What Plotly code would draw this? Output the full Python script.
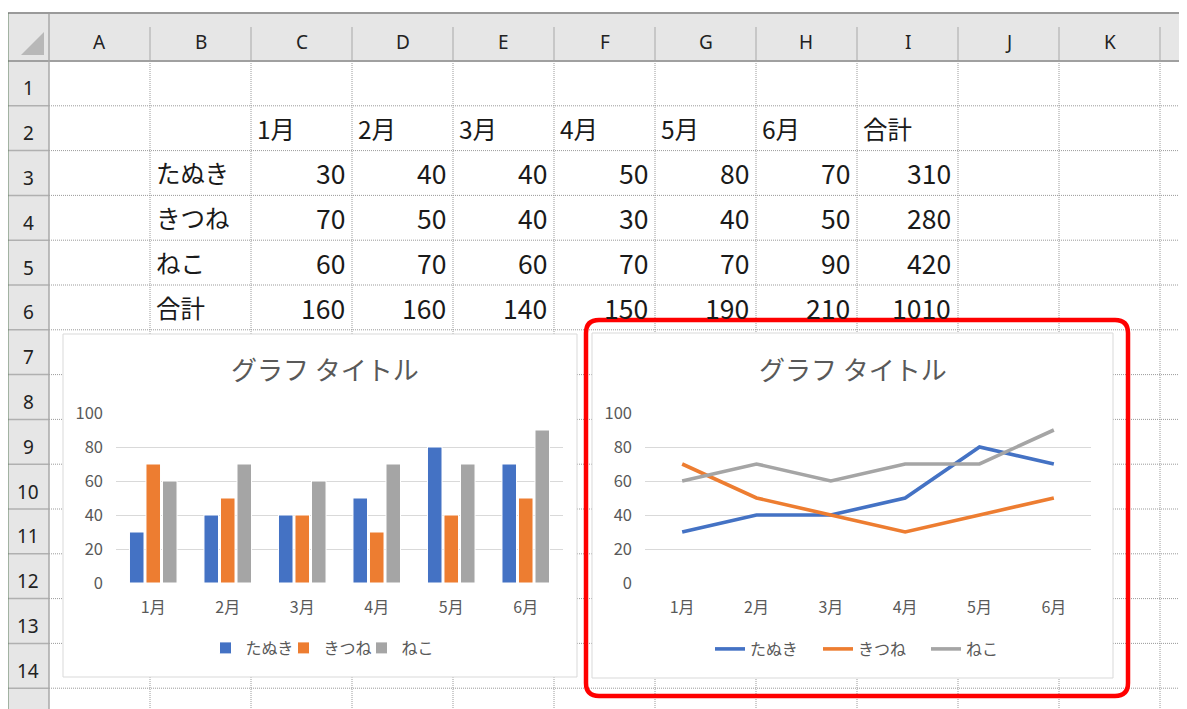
import plotly.graph_objects as go

W, H = 1187, 709

# ---------------- data ----------------
months = ["1月", "2月", "3月", "4月", "5月", "6月"]
animals = ["たぬき", "きつね", "ねこ"]
tanuki = [30, 40, 40, 50, 80, 70]
kitsune = [70, 50, 40, 30, 40, 50]
neko = [60, 70, 60, 70, 70, 90]
row_totals = [310, 280, 420]
col_totals = [160, 160, 140, 150, 190, 210]
grand_total = 1010
total_label = "合計"
chart_title = "グラフ タイトル"
col_letters = ["A", "B", "C", "D", "E", "F", "G", "H", "I", "J", "K"]
row_numbers = list(range(1, 16))
series_colors = ["#4472C4", "#ED7D31", "#A5A5A5"]

# ---------------- geometry helpers ----------------
OFF = 8  # page body margin offset of the rendered figure

def fx(x):
    return (x - OFF) / W

def fy(y):
    return 1 - (y - OFF) / H

COL0, COLW = 49.0, 101.0
ROW0, ROWH = 61.0, 44.8
col_edges = [COL0 + COLW * i for i in range(12)]
row_edges = [ROW0 + ROWH * i for i in range(16)]

CELL_FONT = "Noto Sans CJK JP"
GRAY_TXT = "#595959"

shapes = []
annotations = []

def rect(x0, y0, x1, y1, fill=None, line=None, lw=0, layer="below"):
    shapes.append(dict(type="rect", xref="paper", yref="paper",
                       x0=fx(x0), x1=fx(x1), y0=fy(y1), y1=fy(y0),
                       fillcolor=fill if fill else "rgba(0,0,0,0)",
                       line=dict(color=line if line else "rgba(0,0,0,0)", width=lw),
                       layer=layer))

def hline(y, x0, x1, color, width=1, dash="solid", layer="below"):
    shapes.append(dict(type="line", xref="paper", yref="paper",
                       x0=fx(x0), x1=fx(x1), y0=fy(y), y1=fy(y),
                       line=dict(color=color, width=width, dash=dash), layer=layer))

def vline(x, y0, y1, color, width=1, dash="solid", layer="below"):
    shapes.append(dict(type="line", xref="paper", yref="paper",
                       x0=fx(x), x1=fx(x), y0=fy(y0), y1=fy(y1),
                       line=dict(color=color, width=width, dash=dash), layer=layer))

# ---------------- spreadsheet frame ----------------
rect(7, 13, W + OFF, ROW0, fill="#e6e6e6")
rect(7, ROW0, COL0, H + OFF, fill="#e6e6e6")

# cell grid (dotted)
for x in col_edges[1:]:
    vline(x, ROW0, H + OFF, "#9a9a9a", 1, "1px,1px")
for y in row_edges[1:]:
    hline(y, COL0, W + OFF, "#9a9a9a", 1, "1px,1px")

# header separators
for x in col_edges[1:]:
    vline(x, 27, ROW0, "#bdbdbd", 1.5)
for y in row_edges[1:]:
    hline(y, 7, COL0, "#b0b0b0", 1.5)
hline(ROW0, 7, W + OFF, "#a0a0a0", 2)
vline(COL0, 13, H + OFF, "#a8a8a8", 1.5)
hline(13, 7, W + OFF, "#9a9a9a", 2)
vline(7.5, 13, H + OFF, "#5f7f5f", 2)
# corner triangle
shapes.append(dict(type="path", xref="paper", yref="paper",
                   path=f"M {fx(21)},{fy(55)} L {fx(44)},{fy(55)} L {fx(44)},{fy(32)} Z",
                   fillcolor="#b8b8b8", line=dict(width=0), layer="below"))

# header labels
for i, L in enumerate(col_letters):
    cx = (col_edges[i] + col_edges[i + 1]) / 2
    annotations.append(dict(x=fx(cx), y=fy(42), xref="paper", yref="paper", text=L,
                            showarrow=False, xanchor="center", yanchor="middle",
                            font=dict(family="Noto Sans", size=19, color="#222222")))
for i, n in enumerate(row_numbers):
    cy = row_edges[i] + ROWH / 2 + 5
    annotations.append(dict(x=fx(28), y=fy(cy), xref="paper", yref="paper", text=str(n),
                            showarrow=False, xanchor="center", yanchor="middle",
                            font=dict(family="Noto Sans", size=19, color="#222222")))

# cell texts
def cell_text(col, row, text, align, size):
    cy = row_edges[row - 1] + ROWH / 2
    if align == "left":
        x, xa = col_edges[col] + 4, "left"
    else:
        x, xa = col_edges[col + 1] - 5, "right"
    annotations.append(dict(x=fx(x), y=fy(cy), xref="paper", yref="paper", text=text,
                            showarrow=False, xanchor=xa, yanchor="middle",
                            font=dict(family=CELL_FONT, size=size, color="#1a1a1a")))

JP, NUM = 24.5, 26.5
for j, m in enumerate(months):
    cell_text(2 + j, 2, m, "left", JP)
cell_text(8, 2, total_label, "left", JP)
for r, (name, vals) in enumerate(zip(animals, [tanuki, kitsune, neko])):
    cell_text(1, 3 + r, name, "left", JP)
    for j, v in enumerate(vals):
        cell_text(2 + j, 3 + r, str(v), "right", NUM)
    cell_text(8, 3 + r, str(row_totals[r]), "right", NUM)
cell_text(1, 6, total_label, "left", JP)
for j, v in enumerate(col_totals):
    cell_text(2 + j, 6, str(v), "right", NUM)
cell_text(8, 6, str(grand_total), "right", NUM)

# chart boxes
rect(63, 334, 577, 677, fill="white", line="#d9d9d9", lw=1)
rect(592, 333, 1113, 678, fill="white", line="#d9d9d9", lw=1)

# chart titles
for cx in (325, 853):
    annotations.append(dict(x=fx(cx), y=fy(368), xref="paper", yref="paper", text=chart_title,
                            showarrow=False, xanchor="center", yanchor="middle",
                            font=dict(family=CELL_FONT, size=26, color=GRAY_TXT)))

# red rounded rectangle
rx0, ry0, rx1, ry1, rr = 586, 320, 1128, 696, 13
p = (f"M {fx(rx0+rr)},{fy(ry0)} L {fx(rx1-rr)},{fy(ry0)} "
     f"Q {fx(rx1)},{fy(ry0)} {fx(rx1)},{fy(ry0+rr)} L {fx(rx1)},{fy(ry1-rr)} "
     f"Q {fx(rx1)},{fy(ry1)} {fx(rx1-rr)},{fy(ry1)} L {fx(rx0+rr)},{fy(ry1)} "
     f"Q {fx(rx0)},{fy(ry1)} {fx(rx0)},{fy(ry1-rr)} L {fx(rx0)},{fy(ry0+rr)} "
     f"Q {fx(rx0)},{fy(ry0)} {fx(rx0+rr)},{fy(ry0)} Z")
shapes.append(dict(type="path", xref="paper", yref="paper", path=p,
                   line=dict(color="#ff0000", width=4.5), fillcolor="rgba(0,0,0,0)", layer="above"))

# ---------------- traces ----------------
fig = go.Figure()
for name, vals, c in zip(animals, [tanuki, kitsune, neko], series_colors):
    fig.add_trace(go.Bar(x=months, y=vals, name=name, marker=dict(color=c, line=dict(color="white", width=1)),
                         xaxis="x", yaxis="y", legend="legend", hoverinfo="skip"))
for name, vals, c in zip(animals, [tanuki, kitsune, neko], series_colors):
    fig.add_trace(go.Scatter(x=months, y=vals, name=name, mode="lines",
                             line=dict(color=c, width=3.6),
                             xaxis="x2", yaxis="y2", legend="legend2", hoverinfo="skip"))

ytickfont = dict(family=CELL_FONT, size=16.5, color=GRAY_TXT)
xtickfont = dict(family=CELL_FONT, size=16, color=GRAY_TXT)
ydom = [fy(583), fy(413)]
yax = dict(domain=ydom, range=[0, 100], dtick=20, showgrid=True, gridcolor="#d9d9d9", gridwidth=1,
           zeroline=False, showline=False, ticks="", tickfont=ytickfont, ticklabelstandoff=12,
           fixedrange=True, automargin=False)
xax = dict(showgrid=False, zeroline=False, showline=False, ticks="", tickfont=xtickfont,
           ticklabelstandoff=13, type="category", fixedrange=True, automargin=False)

legfont = dict(family=CELL_FONT, size=16, color=GRAY_TXT)
fig.update_layout(
    width=W, height=H, margin=dict(l=0, r=0, t=0, b=0, pad=0, autoexpand=False),
    paper_bgcolor="white", plot_bgcolor="rgba(0,0,0,0)",
    barmode="group", bargap=0.335, bargroupgap=0.12,
    xaxis=dict(domain=[fx(116), fx(563)], anchor="y", **xax),
    yaxis=dict(anchor="x", **yax),
    xaxis2=dict(domain=[fx(645), fx(1091)], anchor="y2", range=[-0.5, 5.5], **xax),
    yaxis2=dict(anchor="x2", **yax),
    legend=dict(orientation="h", x=fx(205.5), xanchor="left", y=fy(648), yanchor="middle",
                font=legfont, bgcolor="rgba(0,0,0,0)", entrywidth=33, entrywidthmode="pixels",
                itemwidth=30),
    legend2=dict(orientation="h", x=fx(710), xanchor="left", y=fy(649), yanchor="middle",
                 font=legfont, bgcolor="rgba(0,0,0,0)", entrywidth=63, entrywidthmode="pixels",
                 itemwidth=30),
    shapes=shapes, annotations=annotations, showlegend=True,
)

fig.write_html("out.html")
